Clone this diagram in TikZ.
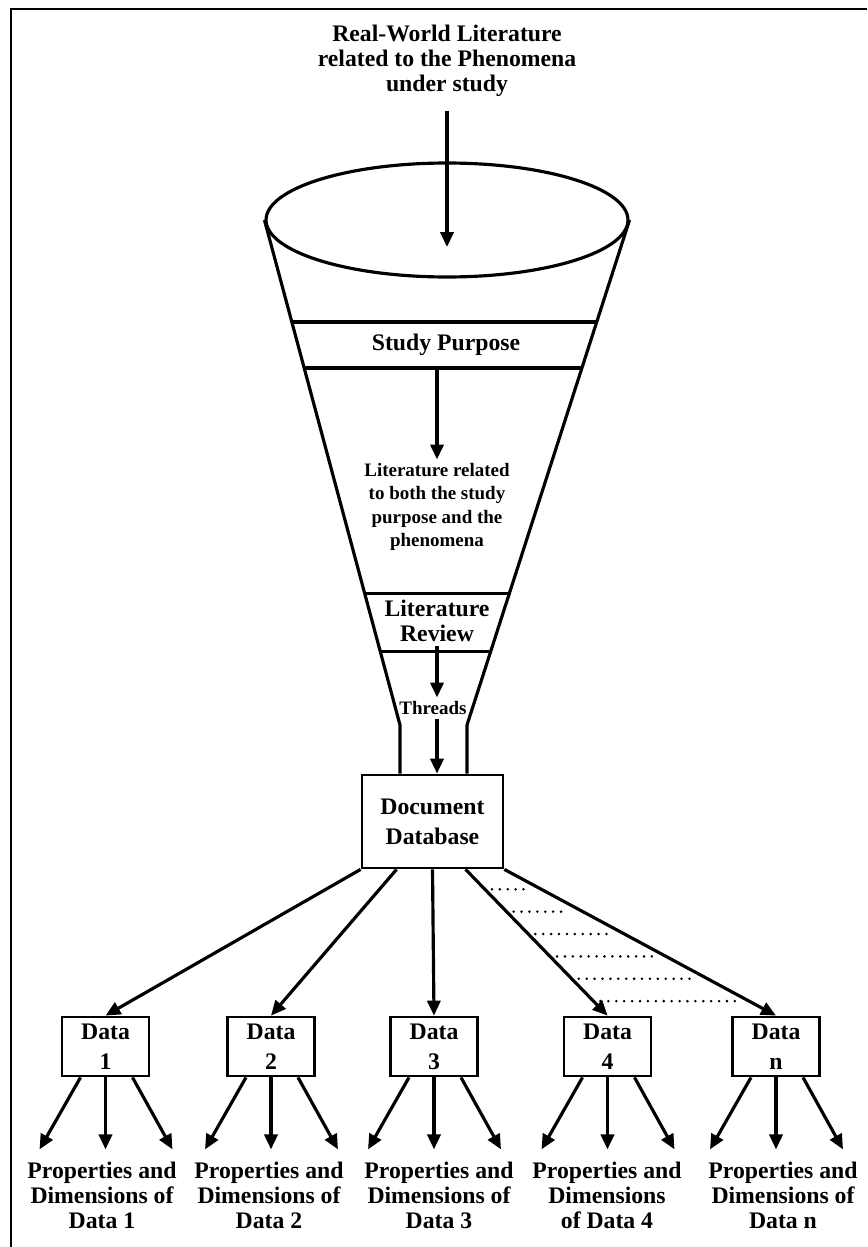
\documentclass[tikz,border=0pt]{standalone}
\usepackage{fontspec}
\setmainfont{Liberation Serif}
\usetikzlibrary{arrows.meta, shapes.geometric, calc}
\tikzset{
  arrow/.style={-{Triangle[length=8.5pt,width=7.5pt]}, line width=1.8pt},
  funnel/.style={line width=1.8pt},
  txt/.style={font=\fontsize{13.5}{14.2}\selectfont\bfseries, align=center, inner sep=2pt},
  smalltxt/.style={font=\fontsize{10.8}{13.3}\selectfont\bfseries, align=center, inner sep=2pt},
  dbbox/.style={draw, line width=1.6pt, align=center,
    font=\fontsize{13.5}{17}\selectfont\bfseries, inner sep=1pt},
  databox/.style={dbbox, minimum width=1.74cm, minimum height=1.18cm},
  dotrow/.style={line width=1.6pt, dash pattern=on 0pt off 4.5pt, line cap=round,
    shorten <=4pt, shorten >=8pt}
}
\begin{document}
\begin{tikzpicture}[x=0.02cm, y=-0.02cm]
\useasboundingbox (0,0) rectangle (867,1247);

% frame
\draw[line width=0.6pt] (11,1247) -- (11,9) -- (867,9);

% funnel
\node[txt] (title) at (447,61) {Real-World Literature\\related to the Phenomena\\under study};
\node[ellipse, draw, funnel, minimum width=7.24cm, minimum height=2.28cm] (mouth) at (447,220) {};
\coordinate (in) at (447,247);
\coordinate (nl) at (400,725);
\coordinate (nr) at (467,725);

\node[txt, minimum height=26pt] (sp) at (446,345) {Study Purpose};
\node[smalltxt] (mid) at (437,507) {Literature related\\to both the study\\purpose and the\\phenomena};
\node[txt] (lr) at (437,621) {Literature\\Review};
\node[smalltxt] (thr) at (433,708) {Threads};
\node[dbbox, minimum width=2.82cm, minimum height=1.86cm] (db) at (432.5,821.5) {Document\\Database};

\draw[funnel] (mouth.west) -- (nl) -- (nl |- db.north);
\draw[funnel] (mouth.east) -- (nr) -- (nr |- db.north);
\foreach \f in {0.202,0.293,0.739,0.855}
  \draw[funnel] ($(mouth.west)!\f!(nl)$) -- ($(mouth.east)!\f!(nr)$);

\draw[arrow, shorten <=6pt] (title.south) -- (in);
\draw[arrow] (sp.south -| mid.north) -- (mid.north);
\draw[arrow] (lr.south) -- (thr.north -| lr.south);
\draw[arrow] (thr.south -| lr.south) -- (db.north -| lr.south);

% data nodes
\foreach \k/\x in {1/105.5, 2/271, 3/434, 4/607.5, n/776}
  \node[databox] (d\k) at (\x,1046.5) {Data\\\k};

\node[txt] (p1) at (102,1195) {Properties and\\Dimensions of\\Data 1};
\node[txt] (p2) at (269,1195) {Properties and\\Dimensions of\\Data 2};
\node[txt] (p3) at (439,1195) {Properties and\\Dimensions of\\Data 3};
\node[txt] (p4) at (607,1195) {Properties and\\Dimensions\\of Data 4};
\node[txt] (pn) at (783,1195) {Properties and\\Dimensions of\\Data n};

% database to data
\coordinate (s2) at ($(db.south west)!0.25!(db.south east)$);
\coordinate (s4) at ($(db.south west)!0.73!(db.south east)$);
\draw[arrow] (db.south west) -- (d1.north);
\draw[arrow] (s2) -- (d2.north);
\draw[arrow] (db.south) -- (d3.north);
\draw[arrow] (s4) -- (d4.north);
\draw[arrow] (db.south east) -- (dn.north);

\foreach \t in {0.136,0.289,0.442,0.595,0.748,0.901}
  \draw[dotrow] ($(s4)!\t!(d4.north)$) -- ($(db.south east)!\t!(dn.north)$);

% data to properties
\foreach \k in {1,2,3,4,n} {
  \coordinate (e\k) at ([yshift=-1.44cm]d\k.south);
  \draw[arrow] ([xshift=-0.5cm]d\k.south) -- ([xshift=-1.32cm]e\k);
  \draw[arrow] (d\k.south) -- (e\k);
  \draw[arrow] ([xshift=0.54cm]d\k.south) -- ([xshift=1.34cm]e\k);
}
\end{tikzpicture}
\end{document}
